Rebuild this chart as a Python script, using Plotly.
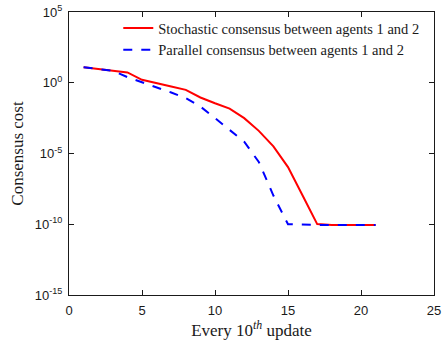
import plotly.graph_objects as go

updates = list(range(1, 22))
stochastic_log = [1.09, 0.97, 0.85, 0.73, 0.21, 0.0, -0.26, -0.5, -1.04, -1.45, -1.83,
                  -2.5, -3.4, -4.5, -5.96, -7.97, -9.99, -10.05, -10.05, -10.05, -10.05]
parallel_log = [1.09, 0.97, 0.85, 0.4, 0.05, -0.33, -0.69, -1.09, -1.68, -2.5, -3.33,
                -4.17, -5.6, -7.97, -10.0, -10.05, -10.05, -10.05, -10.05, -10.05, -10.05]
stochastic = [10 ** v for v in stochastic_log]
parallel = [10 ** v for v in parallel_log]

ytick_exp = [5, 0, -5, -10, -15]
xticks = [0, 5, 10, 15, 20, 25]

serif = "Liberation Serif"
sans = "Liberation Sans"
ink = "#1a1a1a"

fig = go.Figure()
fig.add_trace(go.Scatter(x=updates, y=stochastic, mode="lines",
                         name="Stochastic consensus between agents 1 and 2",
                         line=dict(color="#ff0000", width=2)))
fig.add_trace(go.Scatter(x=updates, y=parallel, mode="lines",
                         name="Parallel consensus between agents 1 and 2",
                         line=dict(color="#0000ff", width=2, dash="dash")))

axis_common = dict(ticks="inside", ticklen=5, tickwidth=1, tickcolor=ink,
                   showgrid=False, zeroline=False, showline=True, linecolor=ink,
                   linewidth=1, mirror="allticks",
                   tickfont=dict(family=sans, size=13, color=ink))

fig.update_layout(
    width=447, height=340,
    margin=dict(l=69, r=13, t=12, b=45, autoexpand=False),
    paper_bgcolor="white", plot_bgcolor="white",
    showlegend=True,
    legend=dict(x=0.135, y=1.0, xanchor="left", yanchor="top",
                bgcolor="rgba(255,255,255,0)", borderwidth=0,
                font=dict(family=serif, size=14.5, color=ink),
                tracegroupgap=0),
    xaxis=dict(range=[0, 25], tickvals=xticks, ticklabelstandoff=3,
               title=dict(text="Every 10<sup><i>th</i></sup> update",
                          font=dict(family=serif, size=17, color=ink), standoff=0),
               **axis_common),
    yaxis=dict(type="log", range=[-15, 5],
               tickvals=[10 ** e for e in ytick_exp],
               ticktext=["10<sup>%d</sup>" % e for e in ytick_exp],
               ticklabelstandoff=3,
               title=dict(text="Consensus cost",
                          font=dict(family=serif, size=17, color=ink), standoff=6),
               **axis_common),
)

fig.write_html("out.html")
